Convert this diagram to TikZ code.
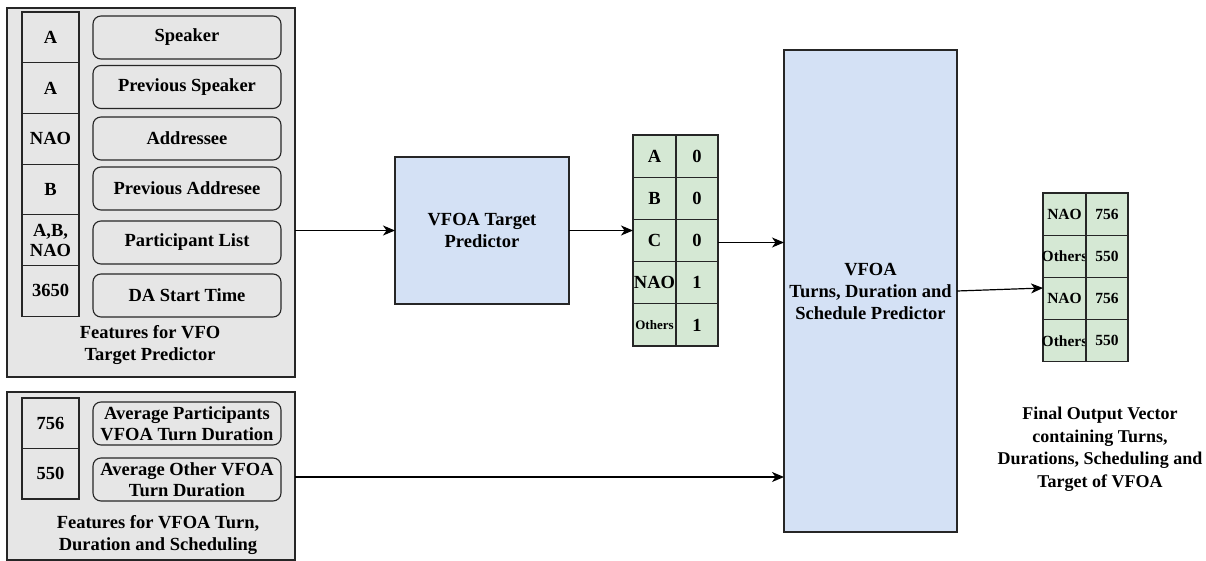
\documentclass[tikz,border=0pt]{standalone}
\usepackage{fontspec}
\setmainfont{Liberation Serif}
\usetikzlibrary{arrows.meta,positioning}
\definecolor{grayfill}{HTML}{E6E6E6}
\definecolor{bluefill}{HTML}{D4E1F5}
\definecolor{greenfill}{HTML}{D5E8D4}
\begin{document}
\begin{tikzpicture}[x=1pt,y=-1pt,
  every node/.style={font=\fontsize{18.5}{22}\selectfont\bfseries, inner sep=0pt, outer sep=0pt, align=center},
  panel/.style={draw=black!85, line width=1.1pt, fill=grayfill, anchor=north west},
  gcell/.style={draw=black!85, line width=1.1pt, fill=grayfill, anchor=north west, minimum width=57pt},
  rbox/.style={draw=black!85, line width=1.1pt, fill=grayfill, rounded corners=8pt, anchor=north west, minimum width=188pt, minimum height=43pt},
  bluebox/.style={draw=black!85, line width=1.1pt, fill=bluefill, anchor=north west},
  tcell/.style={draw=black!85, line width=1.1pt, fill=greenfill, anchor=north west, minimum height=42.2pt},
  arr/.style={line width=1.2pt, -{Stealth[length=12pt,width=10pt,inset=3.5pt]}}
]
\useasboundingbox (0,0) rectangle (1206,561);

% panel 1
\node[panel, minimum width=288pt, minimum height=369pt] (f1) at (7,8) {};
\node[gcell, minimum height=50.7pt] (c1) at (22,12) {A};
\node[gcell, minimum height=50.7pt] (c2) at (22,62.7) {A};
\node[gcell, minimum height=50.7pt] (c3) at (22,113.4) {NAO};
\node[gcell, minimum height=50.7pt] (c4) at (22,164.1) {B};
\node[gcell, minimum height=50.7pt, font=\fontsize{18.5}{20}\selectfont\bfseries] (c5) at (22,214.8) {A,B,\\NAO};
\node[gcell, minimum height=50.7pt] (c6) at (22,265.5) {3650};
\node[rbox] (r1) at (93,16) {Speaker};
\node[rbox] (r2) at (93,65.5) {Previous Speaker};
\node[rbox] (r3) at (93,117) {Addressee};
\node[rbox] (r4) at (93,167) {Previous Addresee};
\node[rbox] (r5) at (93,221) {Participant List};
\node[rbox] (r6) at (93,274) {DA Start Time};
\node (cap1) at (150,345) {Features for VFO\\Target Predictor};

% panel 2
\node[panel, minimum width=288pt, minimum height=168pt] (f2) at (7,392) {};
\node[gcell, minimum height=50.5pt] (d1) at (22,398) {756};
\node[gcell, minimum height=50.5pt] (d2) at (22,448.5) {550};
\node[rbox, font=\fontsize{18.5}{21}\selectfont\bfseries] (s1) at (93,402) {Average Participants\\VFOA Turn Duration};
\node[rbox, font=\fontsize{18.5}{21}\selectfont\bfseries] (s2) at (93,458) {Average Other VFOA\\Turn Duration};
\node (cap2) at (158,535) {Features for VFOA Turn,\\Duration and Scheduling};

% predictor
\node[bluebox, minimum width=174pt, minimum height=147pt] (pred) at (395,157) {VFOA Target\\Predictor};

% table 1
\node[tcell, minimum width=43pt] (tA) at (633,135) {A};
\node[tcell, minimum width=42pt] (tA0) at (676,135) {0};
\node[tcell, minimum width=43pt] (tB) at (633,177.2) {B};
\node[tcell, minimum width=42pt] (tB0) at (676,177.2) {0};
\node[tcell, minimum width=43pt] (tC) at (633,219.4) {C};
\node[tcell, minimum width=42pt] (tC0) at (676,219.4) {0};
\node[tcell, minimum width=43pt] (tN) at (633,261.6) {NAO};
\node[tcell, minimum width=42pt] (tN1) at (676,261.6) {1};
\node[tcell, minimum width=43pt, font=\fontsize{13}{15}\selectfont\bfseries] (tO) at (633,303.8) {Others};
\node[tcell, minimum width=42pt] (tO1) at (676,303.8) {1};

% big predictor
\node[bluebox, minimum width=173pt, minimum height=482pt] (big) at (784,50) {VFOA\\Turns, Duration and\\Schedule Predictor};

% output table
\begin{scope}[every node/.append style={font=\fontsize{15.5}{18}\selectfont\bfseries}]
\node[tcell, minimum width=43pt] (o1) at (1043,193) {NAO};
\node[tcell, minimum width=42pt] (o1v) at (1086,193) {756};
\node[tcell, minimum width=43pt] (o2) at (1043,235.2) {\makebox[43pt]{Others}};
\node[tcell, minimum width=42pt] (o2v) at (1086,235.2) {550};
\node[tcell, minimum width=43pt] (o3) at (1043,277.4) {NAO};
\node[tcell, minimum width=42pt] (o3v) at (1086,277.4) {756};
\node[tcell, minimum width=43pt] (o4) at (1043,319.6) {\makebox[43pt]{Others}};
\node[tcell, minimum width=42pt] (o4v) at (1086,319.6) {550};
\end{scope}
\coordinate (oin) at (1043,288);

\node[font=\fontsize{18}{22.5}\selectfont\bfseries] (cap3) at (1100,449) {Final Output Vector\\containing Turns,\\Durations, Scheduling and\\Target of VFOA};

% connectors
\draw[arr] (pred.west -| f1.east) -- (pred.west);
\draw[arr] (pred.east) -- (pred.east -| tC.west);
\coordinate (t1out) at ([yshift=-2pt]tC0.east);
\draw[arr] (t1out) -- (t1out -| big.west);
\draw[arr] (big.east) -- (oin);
\draw[arr] ([yshift=-1pt]f2.east) -- ([yshift=-1pt]f2.east -| big.west);
\end{tikzpicture}
\end{document}
